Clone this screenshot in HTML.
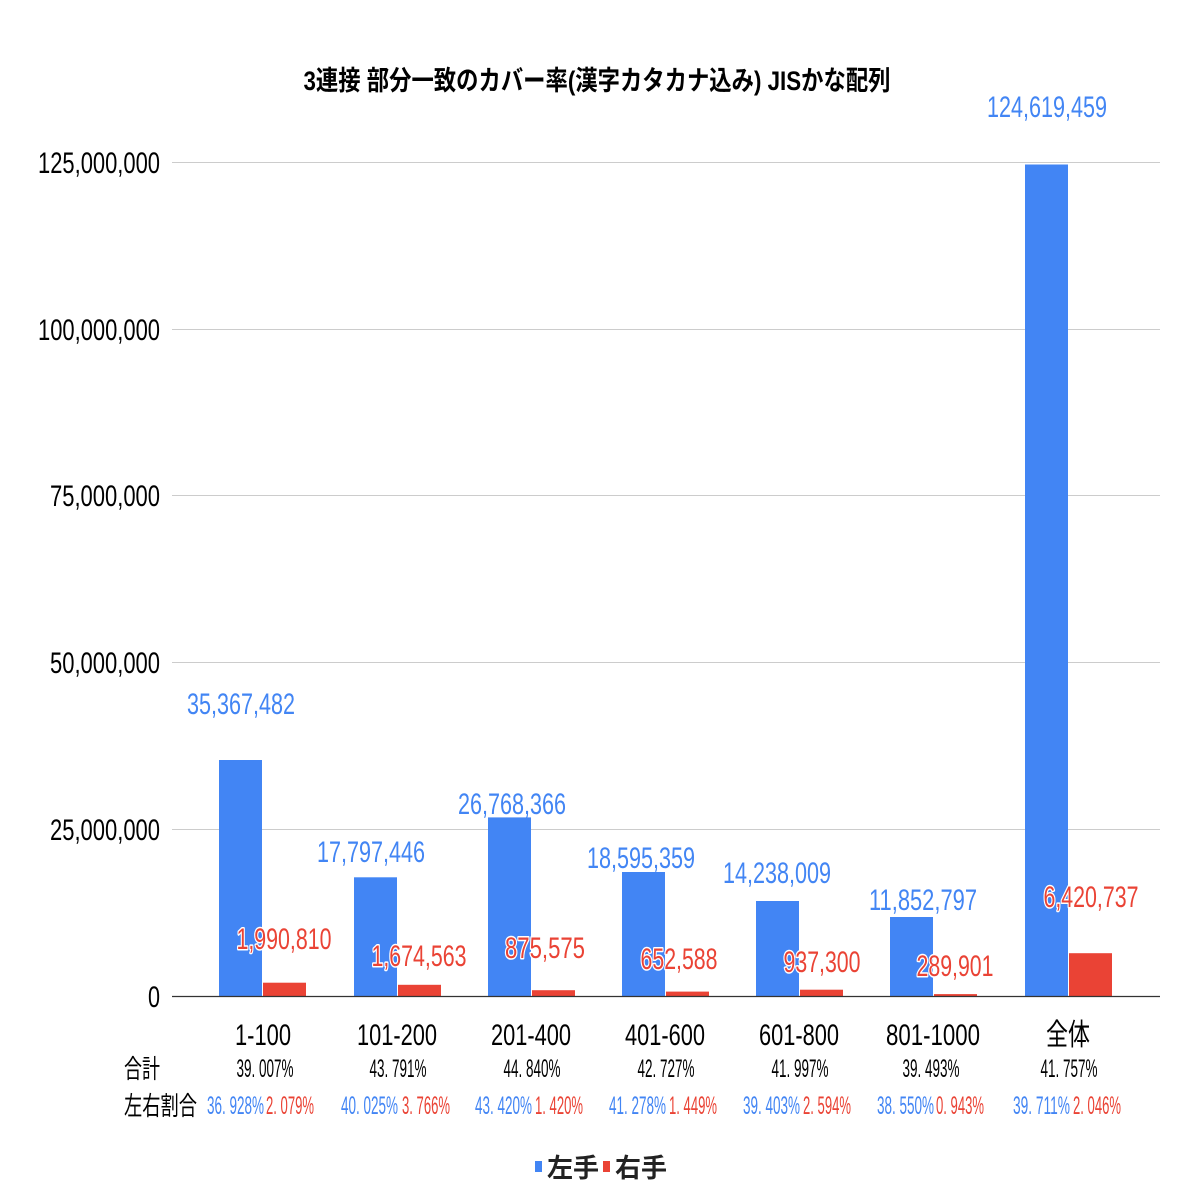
<!DOCTYPE html>
<html><head><meta charset="utf-8"><style>
html,body{margin:0;padding:0;background:#fff}
svg{display:block}
text{font-family:"Liberation Sans","Noto Sans CJK JP",sans-serif}
.b{fill:#4285f4}.r{fill:#ea4335}
.rl{fill:#ea4335;stroke:#fff;stroke-width:3;paint-order:stroke;stroke-linejoin:round}
</style></head><body>
<svg width="1196" height="1196" viewBox="0 0 1196 1196" xmlns="http://www.w3.org/2000/svg">
<rect width="1196" height="1196" fill="#fff"/>
<text x="597" y="90" text-anchor="middle" font-size="27" font-weight="bold" textLength="587" lengthAdjust="spacingAndGlyphs">3連接 部分一致のカバー率(漢字カタカナ込み) JISかな配列</text>
<g stroke="#cccccc" stroke-width="1">
<line x1="172" y1="162.5" x2="1160" y2="162.5"/>
<line x1="172" y1="329.5" x2="1160" y2="329.5"/>
<line x1="172" y1="495.5" x2="1160" y2="495.5"/>
<line x1="172" y1="662.5" x2="1160" y2="662.5"/>
<line x1="172" y1="829.5" x2="1160" y2="829.5"/>
</g>
<g font-size="30" text-anchor="end" fill="#000">
<text x="160" y="173" textLength="122" lengthAdjust="spacingAndGlyphs">125,000,000</text>
<text x="160" y="340" textLength="122" lengthAdjust="spacingAndGlyphs">100,000,000</text>
<text x="160" y="506" textLength="110" lengthAdjust="spacingAndGlyphs">75,000,000</text>
<text x="160" y="673" textLength="110" lengthAdjust="spacingAndGlyphs">50,000,000</text>
<text x="160" y="840" textLength="110" lengthAdjust="spacingAndGlyphs">25,000,000</text>
<text x="160" y="1007" textLength="12" lengthAdjust="spacingAndGlyphs">0</text>
</g>
<rect class="b" x="219" y="760" width="43" height="236"/>
<rect class="r" x="263" y="982.7" width="43" height="13.3"/>
<rect class="b" x="354" y="877.3" width="43" height="118.7"/>
<rect class="r" x="398" y="984.8" width="43" height="11.2"/>
<rect class="b" x="488" y="817.4" width="43" height="178.6"/>
<rect class="r" x="532" y="990.2" width="43" height="5.8"/>
<rect class="b" x="622" y="872" width="43" height="124"/>
<rect class="r" x="666" y="991.6" width="43" height="4.4"/>
<rect class="b" x="756" y="901" width="43" height="95"/>
<rect class="r" x="800" y="989.7" width="43" height="6.3"/>
<rect class="b" x="890" y="917" width="43" height="79"/>
<rect class="r" x="934" y="994.1" width="43" height="1.9"/>
<rect class="b" x="1025" y="164.5" width="43" height="831.5"/>
<rect class="r" x="1069" y="953.2" width="43" height="42.8"/>
<line x1="172" y1="996.5" x2="1160" y2="996.5" stroke="#333" stroke-width="1.3"/>
<g font-size="30" text-anchor="middle" fill="#4285f4">
<text x="241" y="714" textLength="108" lengthAdjust="spacingAndGlyphs">35,367,482</text>
<text x="371" y="862" textLength="108" lengthAdjust="spacingAndGlyphs">17,797,446</text>
<text x="512" y="814" textLength="108" lengthAdjust="spacingAndGlyphs">26,768,366</text>
<text x="641" y="868" textLength="108" lengthAdjust="spacingAndGlyphs">18,595,359</text>
<text x="777" y="883" textLength="108" lengthAdjust="spacingAndGlyphs">14,238,009</text>
<text x="923" y="910" textLength="108" lengthAdjust="spacingAndGlyphs">11,852,797</text>
<text x="1047" y="117" textLength="120" lengthAdjust="spacingAndGlyphs">124,619,459</text>
</g>
<g font-size="30" text-anchor="middle">
<text class="rl" x="284" y="949" textLength="95" lengthAdjust="spacingAndGlyphs">1,990,810</text>
<text class="rl" x="419" y="966" textLength="95" lengthAdjust="spacingAndGlyphs">1,674,563</text>
<text class="rl" x="545" y="958" textLength="80" lengthAdjust="spacingAndGlyphs">875,575</text>
<text class="rl" x="679" y="969" textLength="77" lengthAdjust="spacingAndGlyphs">652,588</text>
<text class="rl" x="822" y="972" textLength="77" lengthAdjust="spacingAndGlyphs">937,300</text>
<text class="rl" x="955" y="976" textLength="77" lengthAdjust="spacingAndGlyphs">289,901</text>
<text class="rl" x="1091" y="907" textLength="95" lengthAdjust="spacingAndGlyphs">6,420,737</text>
</g>
<g font-size="30" text-anchor="middle" fill="#000">
<text x="263" y="1045" textLength="56" lengthAdjust="spacingAndGlyphs">1-100</text>
<text x="397" y="1045" textLength="80" lengthAdjust="spacingAndGlyphs">101-200</text>
<text x="531" y="1045" textLength="80" lengthAdjust="spacingAndGlyphs">201-400</text>
<text x="665" y="1045" textLength="80" lengthAdjust="spacingAndGlyphs">401-600</text>
<text x="799" y="1045" textLength="80" lengthAdjust="spacingAndGlyphs">601-800</text>
<text x="933" y="1045" textLength="94" lengthAdjust="spacingAndGlyphs">801-1000</text>
<text x="1068" y="1045" textLength="44" lengthAdjust="spacingAndGlyphs">全体</text>
</g>
<g font-size="26" fill="#000">
<text x="124" y="1078" textLength="36" lengthAdjust="spacingAndGlyphs">合計</text>
<text x="124" y="1115" textLength="73" lengthAdjust="spacingAndGlyphs">左右割合</text>
</g>
<g font-size="25" text-anchor="middle" fill="#000">
<text x="265" y="1077" textLength="57" lengthAdjust="spacingAndGlyphs">39. 007%</text>
<text x="398" y="1077" textLength="57" lengthAdjust="spacingAndGlyphs">43. 791%</text>
<text x="532" y="1077" textLength="57" lengthAdjust="spacingAndGlyphs">44. 840%</text>
<text x="666" y="1077" textLength="57" lengthAdjust="spacingAndGlyphs">42. 727%</text>
<text x="800" y="1077" textLength="57" lengthAdjust="spacingAndGlyphs">41. 997%</text>
<text x="931" y="1077" textLength="57" lengthAdjust="spacingAndGlyphs">39. 493%</text>
<text x="1069" y="1077" textLength="57" lengthAdjust="spacingAndGlyphs">41. 757%</text>
</g>
<g font-size="25" fill="#4285f4">
<text x="207" y="1114" textLength="57" lengthAdjust="spacingAndGlyphs">36. 928%</text>
<text x="341" y="1114" textLength="57" lengthAdjust="spacingAndGlyphs">40. 025%</text>
<text x="475" y="1114" textLength="57" lengthAdjust="spacingAndGlyphs">43. 420%</text>
<text x="609" y="1114" textLength="57" lengthAdjust="spacingAndGlyphs">41. 278%</text>
<text x="743" y="1114" textLength="57" lengthAdjust="spacingAndGlyphs">39. 403%</text>
<text x="877" y="1114" textLength="57" lengthAdjust="spacingAndGlyphs">38. 550%</text>
<text x="1013" y="1114" textLength="57" lengthAdjust="spacingAndGlyphs">39. 711%</text>
</g>
<g font-size="25" fill="#ea4335">
<text x="266" y="1114" textLength="48" lengthAdjust="spacingAndGlyphs">2. 079%</text>
<text x="402" y="1114" textLength="48" lengthAdjust="spacingAndGlyphs">3. 766%</text>
<text x="535" y="1114" textLength="48" lengthAdjust="spacingAndGlyphs">1. 420%</text>
<text x="669" y="1114" textLength="48" lengthAdjust="spacingAndGlyphs">1. 449%</text>
<text x="803" y="1114" textLength="48" lengthAdjust="spacingAndGlyphs">2. 594%</text>
<text x="936" y="1114" textLength="48" lengthAdjust="spacingAndGlyphs">0. 943%</text>
<text x="1073" y="1114" textLength="48" lengthAdjust="spacingAndGlyphs">2. 046%</text>
</g>
<rect x="535" y="1161" width="7" height="11" fill="#4285f4"/>
<text x="547" y="1177" font-size="26" font-weight="bold" fill="#222">左手</text>
<rect x="603" y="1161" width="7" height="11" fill="#ea4335"/>
<text x="615" y="1177" font-size="26" font-weight="bold" fill="#222">右手</text>
</svg>
</body></html>
